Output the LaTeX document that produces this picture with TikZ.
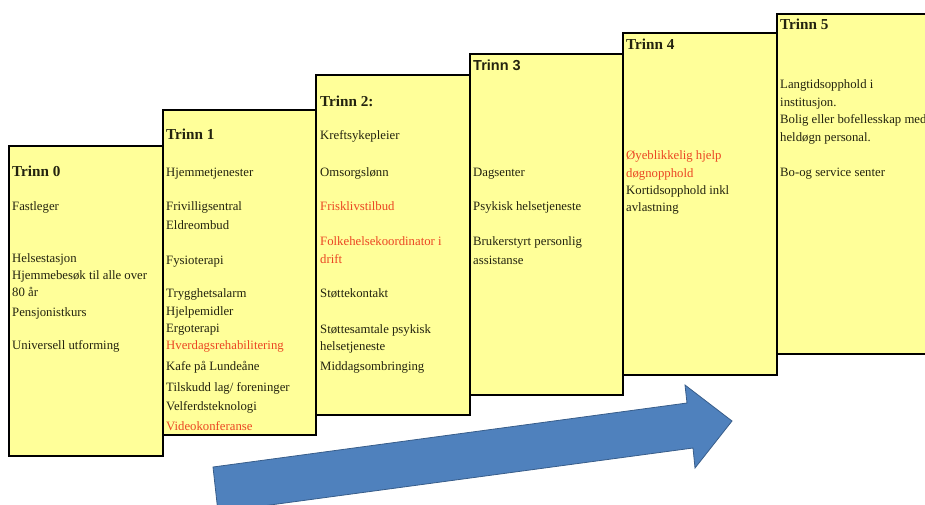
\documentclass[tikz,border=0pt]{standalone}
\usepackage{fontspec}
\setmainfont{Liberation Serif}
\newfontfamily\hdsans{Liberation Sans}
\definecolor{boxfill}{RGB}{255,255,153}
\definecolor{redtxt}{RGB}{235,70,35}
\definecolor{bodytxt}{RGB}{35,35,15}
\definecolor{arrowfill}{RGB}{79,129,189}
\definecolor{arrowline}{RGB}{56,93,138}
\tikzset{
  stagebox/.style={draw=black,line width=1.6pt,fill=boxfill},
  hd/.style={anchor=base west,inner sep=0pt,font=\fontsize{15.2}{17}\selectfont\bfseries,text=bodytxt},
  tx/.style={anchor=base west,inner sep=0pt,font=\fontsize{12.75}{14}\selectfont,text=bodytxt},
  rd/.style={tx,text=redtxt},
  bigarrow/.style={fill=arrowfill,draw=arrowline,line width=0.8pt,line join=miter}
}
\begin{document}
\begin{tikzpicture}[x=1pt,y=-1pt]
\useasboundingbox (0,0) rectangle (925,504);
\begin{scope}
\clip (0,0) rectangle (925,504);
% boxes
\draw[stagebox] (9,146) rectangle (163,456);
\draw[stagebox] (163,110) rectangle (316,435);
\draw[stagebox] (316,75) rectangle (470,415);
\draw[stagebox] (470,54) rectangle (623,395);
\draw[stagebox] (623,33) rectangle (777,375);
\draw[stagebox] (777,14) rectangle (935,354);
% arrow
\draw[bigarrow] (213,467) -- (687,403) -- (685,385) -- (732,421) -- (695,468) -- (693,448) -- (218,512) -- cycle;
\end{scope}
% Trinn 0
\node[hd] (t0) at (12,176) {Trinn 0};
\node[tx] (t0a) at (12,210) {Fastleger};
\node[tx] (t0b) at (12,262) {Helsestasjon};
\node[tx] (t0c) at (12,279) {Hjemmebesøk til alle over};
\node[tx] (t0d) at (12,296) {80 år};
\node[tx] (t0e) at (12,316) {Pensjonistkurs};
\node[tx] (t0f) at (12,349) {Universell utforming};
% Trinn 1
\node[hd] (t1) at (166,139) {Trinn 1};
\node[tx] (t1a) at (166,176) {Hjemmetjenester};
\node[tx] (t1b) at (166,210) {Frivilligsentral};
\node[tx] (t1c) at (166,229) {Eldreombud};
\node[tx] (t1d) at (166,264) {Fysioterapi};
\node[tx] (t1e) at (166,297) {Trygghetsalarm};
\node[tx] (t1f) at (166,315) {Hjelpemidler};
\node[tx] (t1g) at (166,332) {Ergoterapi};
\node[rd] (t1h) at (166,349) {Hverdagsrehabilitering};
\node[tx] (t1i) at (166,370) {Kafe på Lundeåne};
\node[tx] (t1j) at (166,391) {Tilskudd lag/ foreninger};
\node[tx] (t1k) at (166,410) {Velferdsteknologi};
\node[rd] (t1l) at (166,430) {Videokonferanse};
% Trinn 2
\node[hd] (t2) at (320,106) {Trinn 2:};
\node[tx] (t2a) at (320,139) {Kreftsykepleier};
\node[tx] (t2b) at (320,176) {Omsorgslønn};
\node[rd] (t2c) at (320,210) {Frisklivstilbud};
\node[rd] (t2d) at (320,245) {Folkehelsekoordinator i};
\node[rd] (t2e) at (320,263) {drift};
\node[tx] (t2f) at (320,297) {Støttekontakt};
\node[tx] (t2g) at (320,333) {Støttesamtale psykisk};
\node[tx] (t2h) at (320,350) {helsetjeneste};
\node[tx] (t2i) at (320,370) {Middagsombringing};
% Trinn 3
\node[hd,font=\hdsans\fontsize{14.5}{16}\selectfont\bfseries] (t3) at (473,70) {Trinn 3};
\node[tx] (t3a) at (473,176) {Dagsenter};
\node[tx] (t3b) at (473,210) {Psykisk helsetjeneste};
\node[tx] (t3c) at (473,245) {Brukerstyrt personlig};
\node[tx] (t3d) at (473,264) {assistanse};
% Trinn 4
\node[hd] (t4) at (626,49) {Trinn 4};
\node[rd] (t4a) at (626,159) {Øyeblikkelig hjelp};
\node[rd] (t4b) at (626,177) {døgnopphold};
\node[tx] (t4c) at (626,194) {Kortidsopphold inkl};
\node[tx] (t4d) at (626,211) {avlastning};
% Trinn 5
\node[hd] (t5) at (780,29) {Trinn 5};
\node[tx] (t5a) at (780,88) {Langtidsopphold i};
\node[tx] (t5b) at (780,106) {institusjon.};
\node[tx] (t5c) at (780,123) {Bolig eller bofellesskap med};
\node[tx] (t5d) at (780,141) {heldøgn personal.};
\node[tx] (t5e) at (780,176) {Bo-og service senter};
\end{tikzpicture}
\end{document}
